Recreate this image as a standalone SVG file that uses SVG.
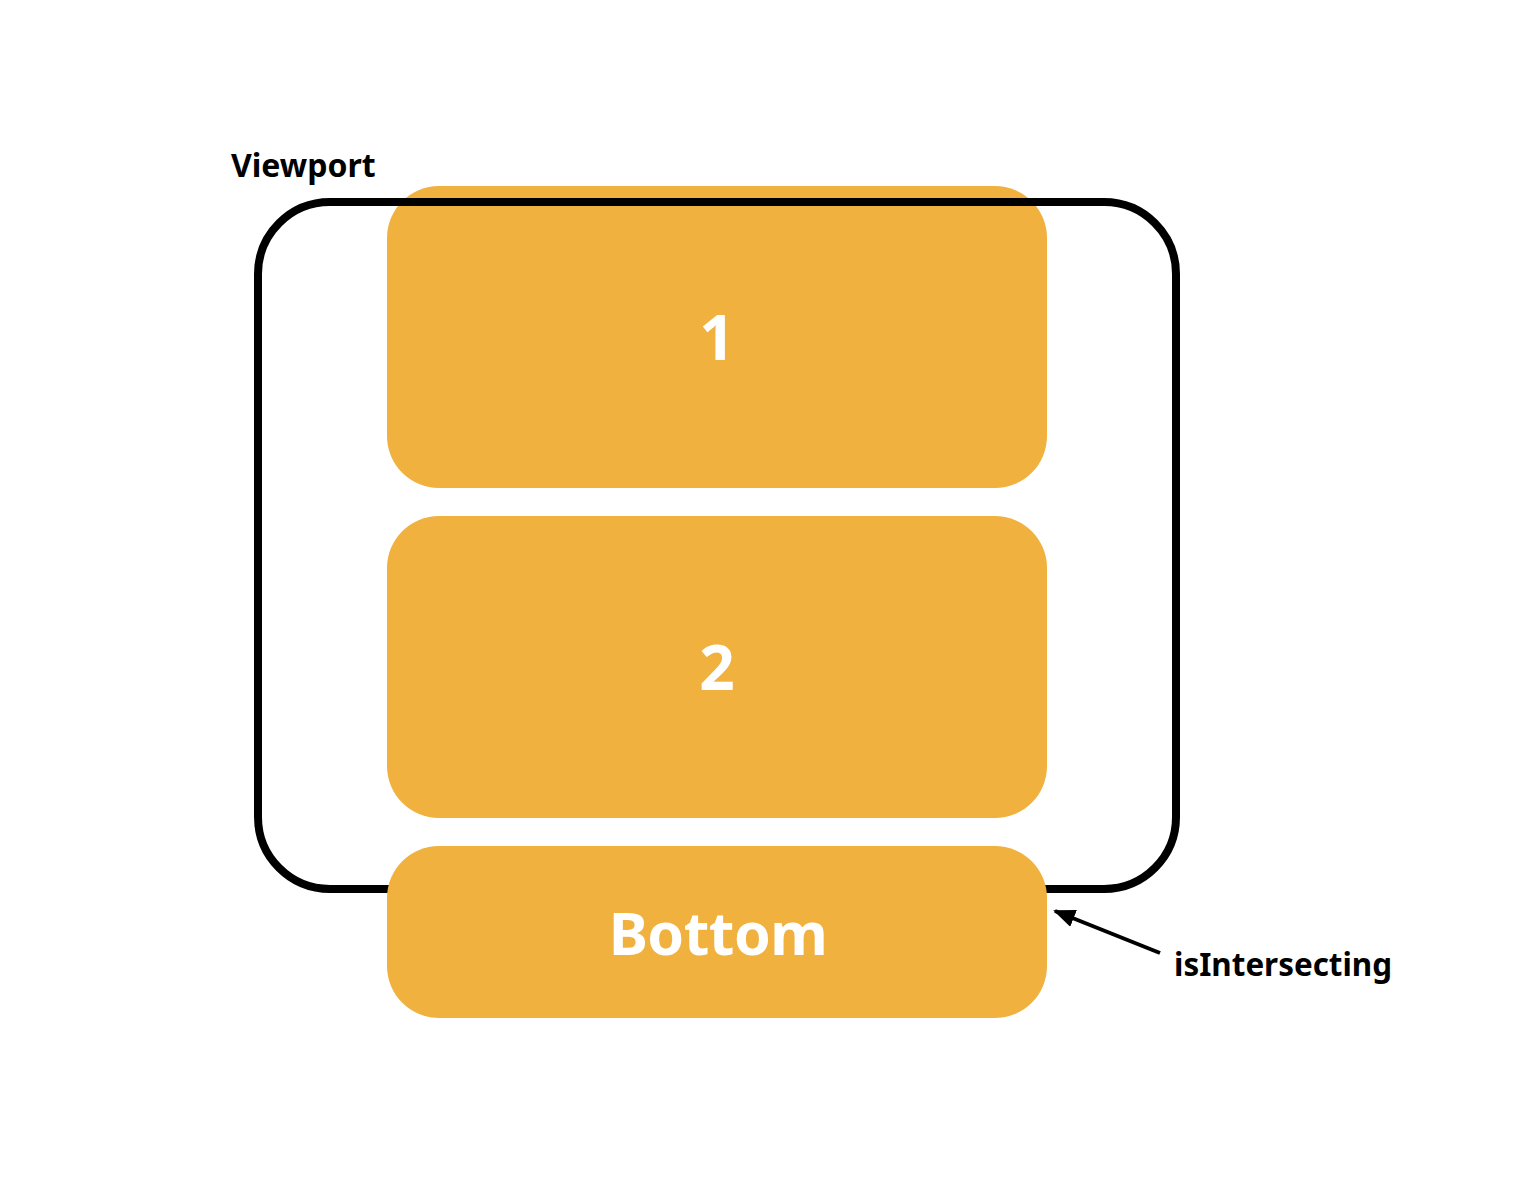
<svg xmlns="http://www.w3.org/2000/svg" width="1528" height="1196" viewBox="0 0 1528 1196">
<style>
.box{fill:#F0B13E}
.lbl{font-family:"Noto Sans","Open Sans",sans-serif;font-weight:bold;fill:#ffffff;text-anchor:middle}
.note{font-family:"Noto Sans","Open Sans",sans-serif;font-weight:bold;fill:#000000}
</style>
<defs>
<marker id="ah2" markerWidth="22" markerHeight="18" refX="20" refY="9" orient="auto" markerUnits="userSpaceOnUse">
<path d="M0,0 L22,9 L0,18 z" fill="#000"/>
</marker>
</defs>
<rect width="1528" height="1196" fill="#ffffff"/>
<g id="box1">
<rect class="box" x="387" y="186" width="660" height="302" rx="52"/>
<text class="lbl" x="717" y="360" font-size="62">1</text>
</g>
<g id="box2">
<rect class="box" x="387" y="516" width="660" height="302" rx="52"/>
<text class="lbl" x="717" y="690" font-size="62">2</text>
</g>
<g id="viewport">
<rect x="258" y="202" width="918" height="687" rx="72" fill="none" stroke="#000" stroke-width="8"/>
<text class="note" x="231" y="177" font-size="32">Viewport</text>
</g>
<g id="bottom">
<rect class="box" x="387" y="846" width="660" height="172" rx="52"/>
<text class="lbl" x="718" y="955" font-size="59" letter-spacing="-0.5">Bottom</text>
</g>
<g id="connectors">
<line x1="1160" y1="953" x2="1055" y2="911" stroke="#000" stroke-width="4" marker-end="url(#ah2)"/>
</g>
<g id="label-isIntersecting">
<text class="note" x="1174" y="976" font-size="31.4">isIntersecting</text>
</g>
</svg>
